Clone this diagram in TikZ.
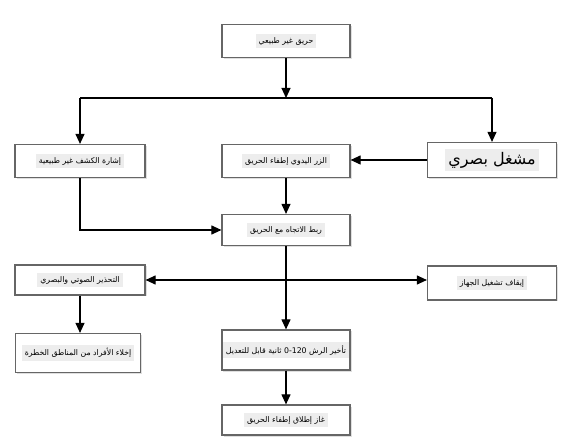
\documentclass[tikz,border=0pt]{standalone}
\usepackage{fontspec}
\newfontfamily\arabicfont[Script=Arabic]{DejaVu Sans}
\TeXXeTstate=1
\usetikzlibrary{arrows.meta, shadows}

\newcommand{\ar}[1]{\colorbox{black!7}{\arabicfont\beginR #1\endR}}

\begin{document}
\begin{tikzpicture}[x=1pt, y=-1pt,
        box/.style={draw=black!60, line width=1.2pt, fill=white, inner sep=1pt,
            minimum width=128pt, minimum height=33pt, font=\fontsize{7.8}{9}\selectfont,
            drop shadow={shadow xshift=1.5pt, shadow yshift=-1.5pt, fill=black!25}},
        link/.style={line width=1.1pt, -{Triangle[length=10pt, width=9pt]}}]
        \useasboundingbox (0,0) rectangle (581,446);
        % top
        \node [box] (fire) at (286,41) {\ar{حريق غير طبيعي}};
        % second row
        \node [box, minimum width=130pt] (det) at (80,161) {\ar{إشارة الكشف غير طبيعية}};
        \node [box] (btn) at (286,161) {\ar{الزر اليدوي إطفاء الحريق}};
        \node [box, minimum width=129pt, minimum height=35pt, font=\fontsize{16}{18}\selectfont] (opt) at (492,160) {\ar{مشغل بصري}};
        % middle
        \node [box, minimum height=31pt] (linkage) at (286,230) {\ar{ربط الاتجاه مع الحريق}};
        \node [box, minimum width=130pt, minimum height=30pt] (warn) at (80,280) {\ar{التحذير الصوتي والبصري}};
        \node [box, minimum width=129pt, minimum height=34pt] (stop) at (492,283) {\ar{إيقاف تشغيل الجهاز}};
        % lower
        \node [box, minimum width=125pt, minimum height=39pt] (evac) at (78,353) {\ar{إخلاء الأفراد من المناطق الخطرة}};
        \node [box, minimum height=40pt] (delay) at (286,350) {\ar{تأخير الرش \beginL0-120\endL{} ثانية قابل للتعديل}};
        \node [box, minimum height=30pt] (gas) at (286,420) {\ar{غاز إطلاق إطفاء الحريق}};
        % connectors
        \coordinate (split) at (286,98);
        \draw [link] (fire.south) -- (split);
        \draw [line width=1.1pt] (det.north |- split) -- (opt.north |- split);
        \draw [link] (det.north |- split) -- (det.north);
        \draw [link] (opt.north |- split) -- (opt.north);
        \draw [link] (opt.west) -- (btn.east |- opt.west);
        \draw [link] (btn.south) -- (linkage.north);
        \draw [link] (det.south) |- (linkage.west);
        \draw [link] (linkage.south) -- (delay.north);
        \draw [link, {Triangle[length=10pt, width=9pt]}-{Triangle[length=10pt, width=9pt]}] (warn.east) -- (warn.east -| stop.west);
        \draw [link] (warn.south) -- (warn.south |- evac.north);
        \draw [link] (delay.south) -- (gas.north);
\end{tikzpicture}
\end{document}
